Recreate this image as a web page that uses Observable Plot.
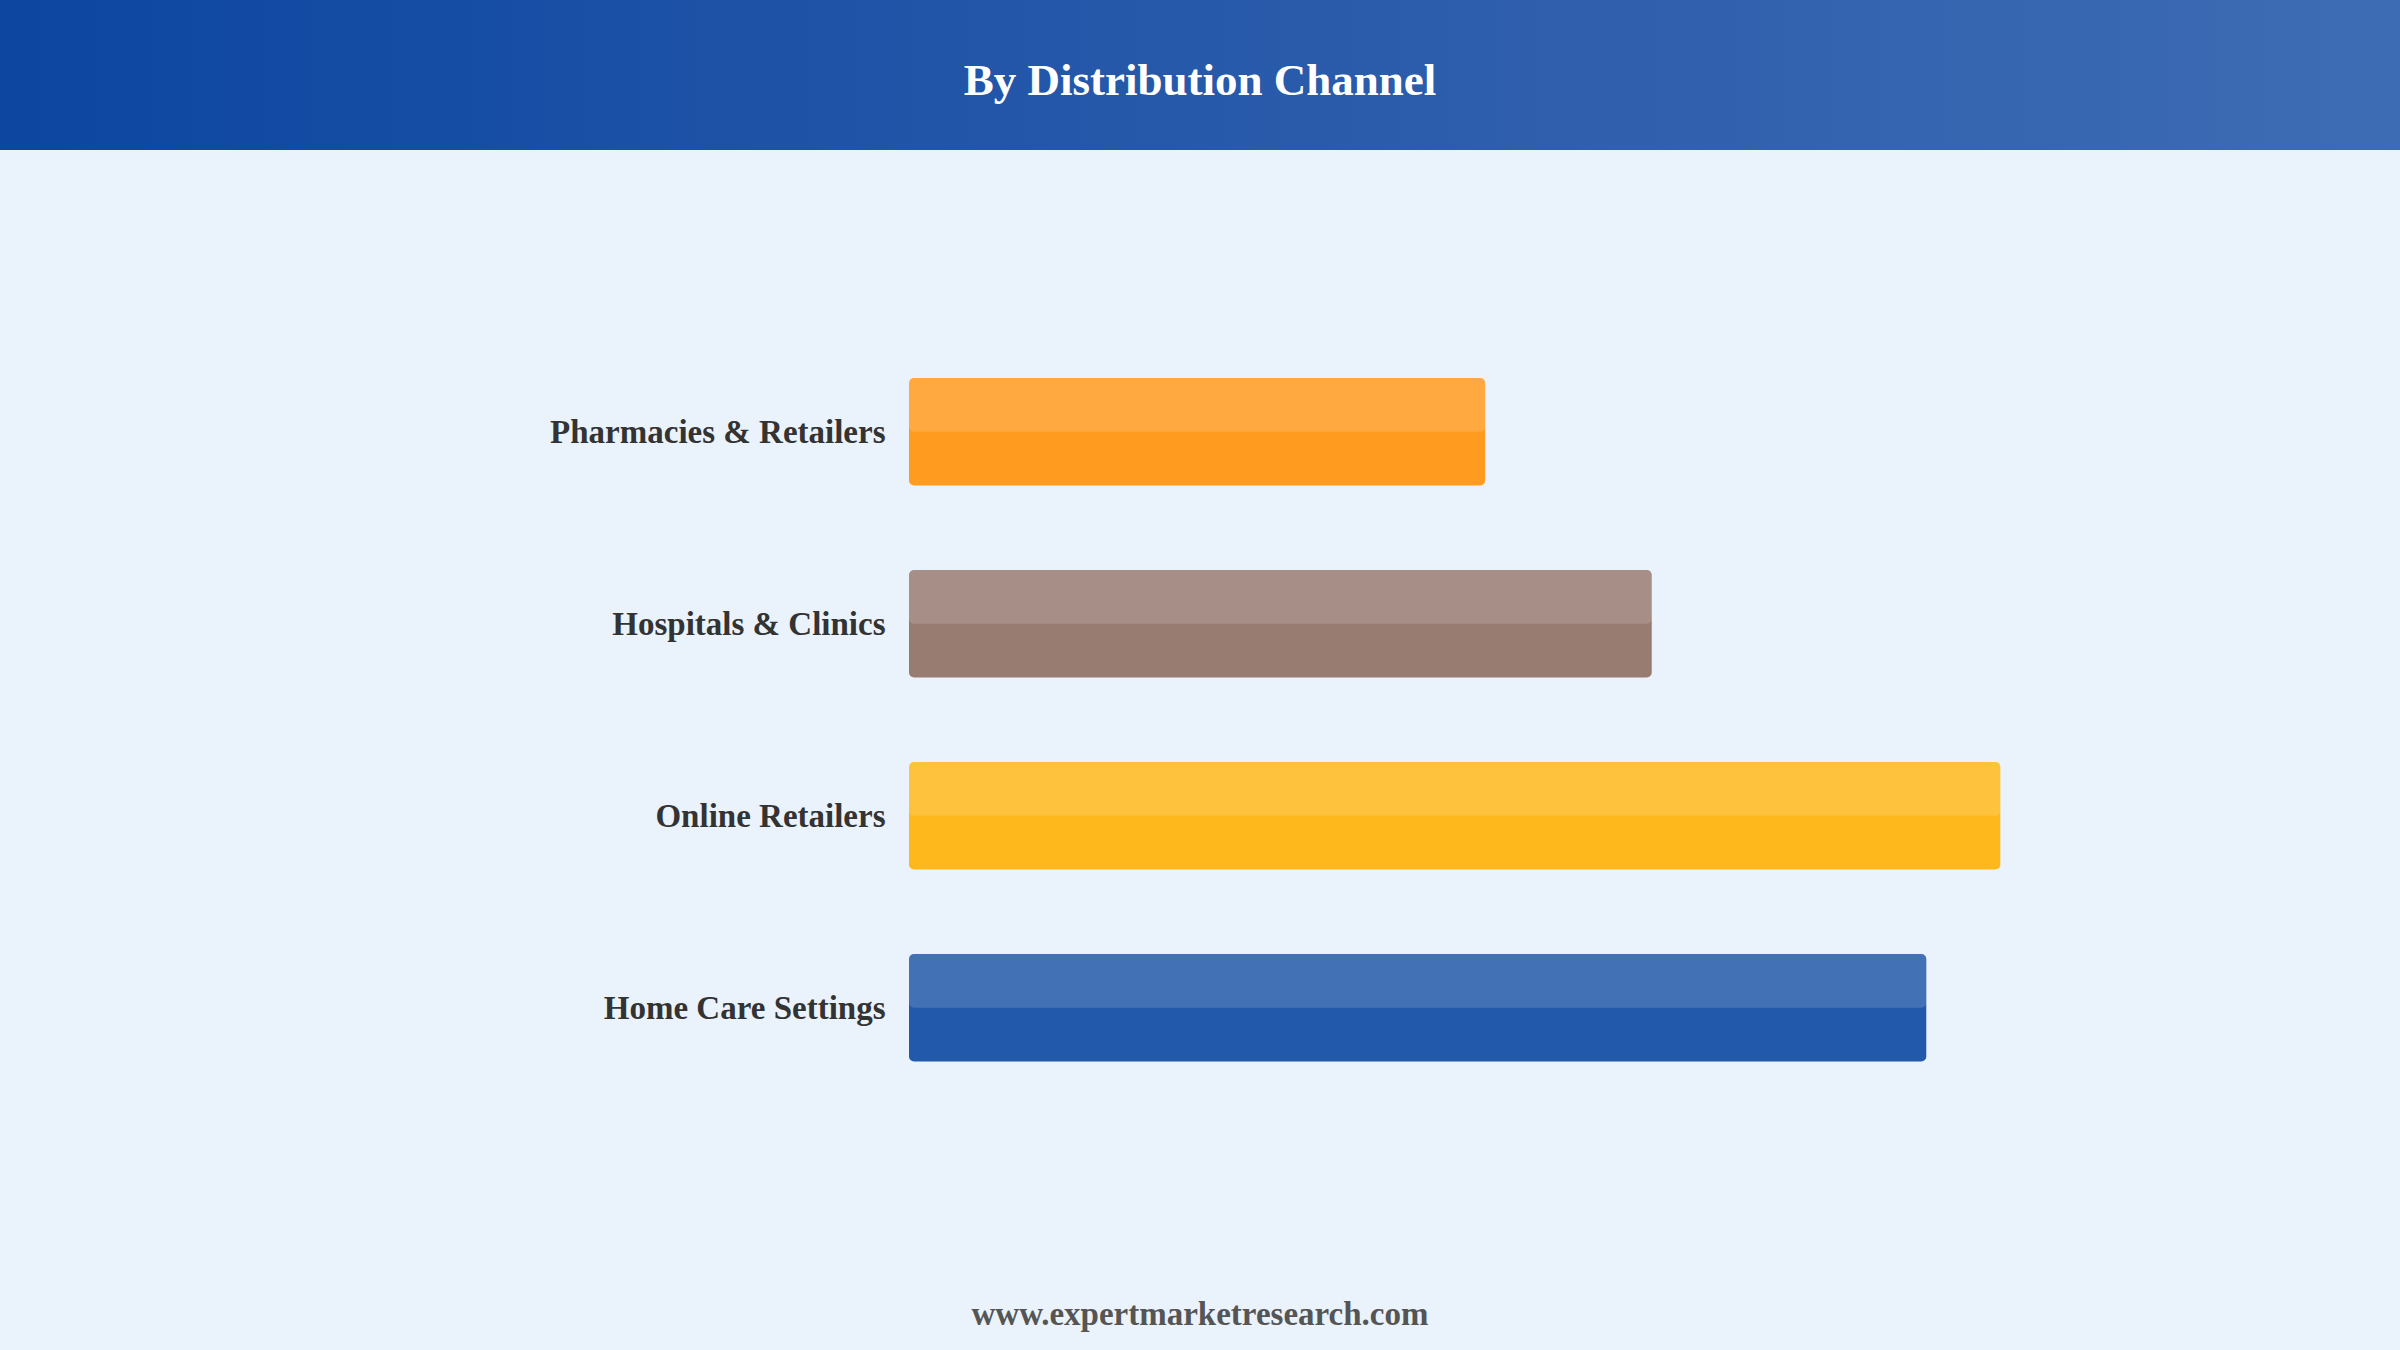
<!DOCTYPE html>
<html>
<head>
<meta charset="utf-8">
<script src="https://cdn.jsdelivr.net/npm/d3@7"></script>
<script src="https://cdn.jsdelivr.net/npm/@observablehq/plot@0.6"></script>
<style>
html, body { margin: 0; padding: 0; background: #EAF2FB; }
body { width: 2400px; height: 1350px; overflow: hidden; font-family: "Liberation Serif", "Times New Roman", serif; position: relative; }
#header { position: relative; height: 150px; background: linear-gradient(90deg, #0c46a1 0%, #2a5bab 55%, #3e6cb4 100%); }
#title { position: absolute; left: 0; right: 0; top: 58px; text-align: center; color: #fff; font-weight: bold; font-size: 45px; line-height: 45px; }
#chart { height: 1110px; }
#chart svg { display: block; }
#footer { position: relative; height: 90px; }
#source { position: absolute; left: 0; right: 0; top: 38px; text-align: center; color: #555; font-weight: bold; font-size: 33px; line-height: 33px; }
</style>
</head>
<body>
<div id="header"><div id="title">By Distribution Channel</div></div>
<div id="chart"></div>
<div id="footer"><div id="source">www.expertmarketresearch.com</div></div>
<script>
const categories = ["Pharmacies & Retailers", "Hospitals & Clinics", "Online Retailers", "Home Care Settings"];
const values = [16.81, 21.67, 31.84, 29.68];
const palette = ["#FF9B1F", "#987B71", "#FFB81C", "#2359AA"];

const data = categories.map((c, i) => ({ category: c, value: values[i] }));

const chart = Plot.plot({
  width: 2400,
  height: 1110,
  marginLeft: 909,
  marginRight: 120,
  marginTop: 185.76,
  marginBottom: 156.24,
  style: { background: "transparent", fontFamily: "'Liberation Serif', 'Times New Roman', serif", fontWeight: "bold", fontSize: "33px" },
  x: { domain: [0, 40], axis: null },
  y: { domain: categories, paddingInner: 0.44, paddingOuter: 0.22, round: false, label: null },
  color: { domain: categories, range: palette },
  marks: [
    Plot.axisY({ tickSize: 0, tickPadding: 24, fontSize: 33, fontWeight: "bold", fill: "#333", label: null }),
    Plot.barX(data, { x: "value", y: "category", fill: "category", rx: 5 }),
    Plot.barX(data, { x: "value", y: "category", fill: "white", fillOpacity: 0.15, rx: 5, insetBottom: 53.76 })
  ]
});
document.getElementById("chart").appendChild(chart);
</script>
</body>
</html>
